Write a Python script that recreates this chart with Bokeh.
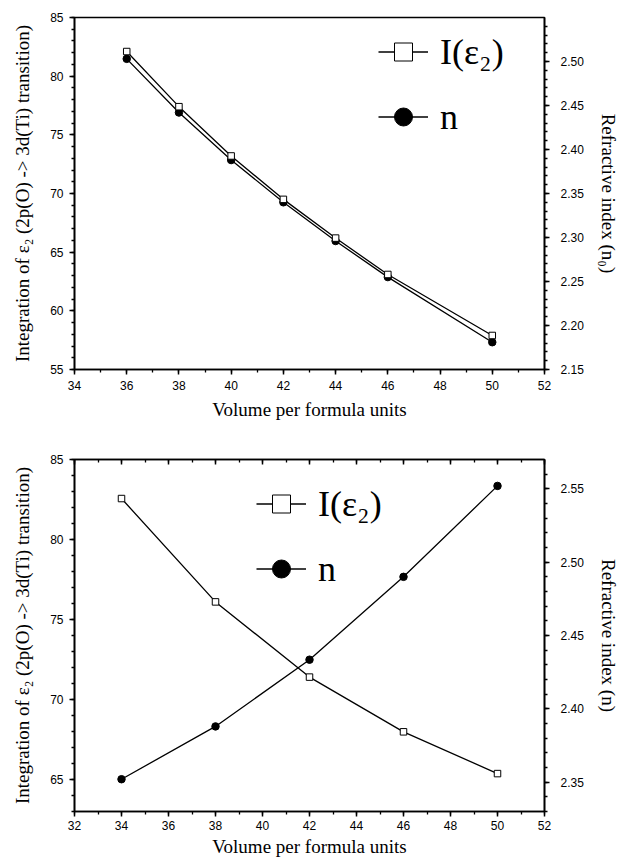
from bokeh.plotting import figure
from bokeh.models import (Range1d, LinearAxis, SingleIntervalTicker,
                          NumeralTickFormatter, Legend, LegendItem,
                          CustomJSTickFormatter)
from bokeh.layouts import column
from bokeh.embed import file_html
from bokeh.resources import INLINE

# ---------------- data ----------------
vol_top = [36, 38, 40, 42, 44, 46, 50]
ie2_top = [82.1, 77.4, 73.2, 69.5, 66.2, 63.1, 57.9]
n0_top = [2.503, 2.442, 2.388, 2.340, 2.296, 2.255, 2.181]

vol_bot = [34, 38, 42, 46, 50]
ie2_bot = [82.56, 76.1, 71.4, 67.98, 65.37]
n_bot = [2.352, 2.388, 2.4335, 2.490, 2.552]

x_title = "Volume per formula units"
left_title = "Integration of \u03b5\u2082 (2p(O) -> 3d(Ti) transition)"
right_title_top = "Refractive index (n\u2080)"
right_title_bot = "Refractive index (n)"
leg_labels = ["I(\u03b5\u2082)", "n"]

SANS = "Liberation Sans"
SERIF = "Liberation Serif"


def style_axis(ax, label_standoff=6, title_standoff=6, tick_out=True):
    ax.axis_line_width = 1.6
    ax.axis_line_color = "black"
    ax.major_tick_line_width = 1.5
    ax.minor_tick_line_width = 1.3
    ax.major_tick_line_color = "black"
    ax.minor_tick_line_color = "black"
    if tick_out:
        ax.major_tick_out = 5
        ax.major_tick_in = 0
        ax.minor_tick_out = 3
        ax.minor_tick_in = 0
    ax.major_label_text_font = SANS
    ax.major_label_text_font_size = "12px"
    ax.major_label_text_color = "black"
    ax.major_label_standoff = label_standoff
    ax.axis_label_text_font = SERIF
    ax.axis_label_text_font_size = "19px"
    ax.axis_label_text_font_style = "normal"
    ax.axis_label_text_color = "black"
    ax.axis_label_standoff = title_standoff


def make_panel(xr, yr, y2r, xs, y1, y2, right_title, height, bt, bb,
               leg_loc, top_ticks, xl_stand, xt_stand):
    p = figure(width=621, height=height, x_range=Range1d(*xr),
               y_range=Range1d(*yr), output_backend="svg",
               toolbar_location=None, min_border_left=74,
               min_border_right=72, min_border_top=bt, min_border_bottom=bb)
    p.xgrid.visible = False
    p.ygrid.visible = False
    p.outline_line_color = "black"
    p.outline_line_width = 1.6
    p.outline_line_alpha = 1
    p.background_fill_color = "white"
    p.border_fill_color = "white"

    xa = p.xaxis[0]
    xa.ticker = SingleIntervalTicker(interval=2, num_minor_ticks=2)
    xa.axis_label = x_title
    style_axis(xa, xl_stand, xt_stand)

    ya = p.yaxis[0]
    ya.ticker = SingleIntervalTicker(interval=5, num_minor_ticks=5)
    ya.axis_label = left_title
    style_axis(ya, 6, 14)

    p.extra_y_ranges = {"n": Range1d(*y2r)}
    ra = LinearAxis(y_range_name="n",
                    ticker=SingleIntervalTicker(interval=0.05, num_minor_ticks=5),
                    formatter=NumeralTickFormatter(format="0.00"),
                    axis_label=right_title)
    style_axis(ra, 11, 11)
    p.add_layout(ra, "right")

    if top_ticks:
        ta = LinearAxis(ticker=SingleIntervalTicker(interval=2, num_minor_ticks=2),
                        formatter=CustomJSTickFormatter(code="return ''"))
        style_axis(ta, 0, 0, tick_out=False)
        ta.major_tick_in = 5
        ta.major_tick_out = 0
        ta.minor_tick_in = 3
        ta.minor_tick_out = 0
        p.add_layout(ta, "above")

    ln = p.line(xs, y2, y_range_name="n", line_color="black", line_width=1.3)
    sn = p.scatter(xs, y2, y_range_name="n", marker="circle", size=7.5,
                   fill_color="black", line_color="black")
    li = p.line(xs, y1, line_color="black", line_width=1.3)
    si = p.scatter(xs, y1, marker="square", size=6.5, fill_color="white",
                   line_color="black", line_width=1)

    leg = Legend(items=[LegendItem(label=leg_labels[0], renderers=[li, si]),
                        LegendItem(label=leg_labels[1], renderers=[ln, sn])],
                 location=leg_loc)
    leg.label_text_font = SERIF
    leg.label_text_font_size = "36px"
    leg.label_text_color = "black"
    leg.glyph_width = 50
    leg.glyph_height = 45
    leg.label_height = 45
    leg.label_standoff = 12
    leg.spacing = 20
    leg.padding = 0
    leg.margin = 0
    leg.border_line_alpha = 0
    leg.background_fill_alpha = 0
    p.add_layout(leg)
    return p


p1 = make_panel((34, 52), (55, 85), (2.15, 2.55), vol_top, ie2_top, n0_top,
                right_title_top, 429, 17, 60, (304, 230), False, 6, 6)
p2 = make_panel((32, 52), (63, 85), (2.33, 2.57), vol_bot, ie2_bot, n_bot,
                right_title_bot, 432, 30, 50, (182, 220), True, 4, 3)

layout = column(p1, p2, spacing=0)
open("out.html", "w").write(file_html(layout, INLINE))
